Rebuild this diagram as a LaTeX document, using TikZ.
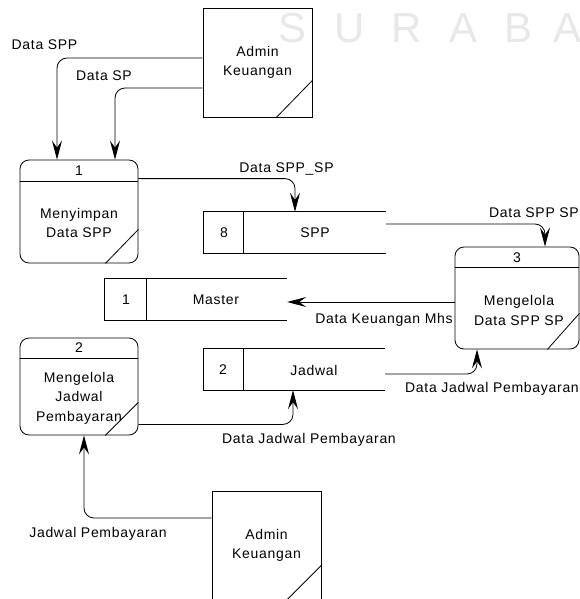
\documentclass[tikz,border=0pt]{standalone}
\usepackage{fontspec}
\setmainfont{Liberation Sans}[LetterSpace=5]
\newfontfamily\wmfont{Liberation Sans}
\usetikzlibrary{arrows.meta}
\begin{document}
\begin{tikzpicture}[x=1pt,y=-1pt,
  every node/.style={font=\fontsize{14}{19.5}\selectfont, inner sep=0pt},
  edge/.style={line width=0.8pt},
  proc/.style={draw, edge, rounded corners=9pt, minimum width=118pt},
  ent/.style={draw, edge, minimum width=109pt, minimum height=109pt, align=center},
  store/.style={minimum width=182pt, minimum height=41pt},
  body/.style={align=center},
  lbl/.style={text height=10pt, text depth=0pt},
  flow/.style={edge, rounded corners=10pt, -{Stealth[length=19pt,width=10pt,inset=7pt]}},
  wmark/.style={font=\wmfont\fontsize{42}{42}\selectfont, text=black!9}
]
\useasboundingbox (0,0) rectangle (580,599);

% faint lettering across the top
\foreach \ch/\xx [count=\i] in {S/293,U/350,R/407,A/463,B/518,A/567}
  \node[wmark] (wm\i) at (\xx,28) {\ch};

% external entities
\node[ent] (e1) at (257.5,62.5) {Admin\\Keuangan};
\draw[edge] ([xshift=-36pt]e1.south east) -- ([yshift=37pt]e1.south east);
\node[ent] (e2) at (266.5,545.5) {Admin\\Keuangan};
\draw[edge] ([xshift=-35pt]e2.south east) -- ([yshift=35pt]e2.south east);

% process 1
\node[proc, minimum height=103pt] (p1) at (79,211.5) {};
\draw[edge] ([yshift=-22pt]p1.north west) -- ([yshift=-22pt]p1.north east);
\draw[edge] ([xshift=-33pt]p1.south east) -- ([yshift=34pt]p1.south east);
\node (p1n) at (79,171) {1};
\node[body] (p1t) at (79,223) {Menyimpan\\Data SPP};

% process 2
\node[proc, minimum height=97pt] (p2) at (79,386.5) {};
\draw[edge] ([yshift=-21pt]p2.north west) -- ([yshift=-21pt]p2.north east);
\draw[edge] ([xshift=-33pt]p2.south east) -- ([yshift=33pt]p2.south east);
\node (p2n) at (79,348) {2};
\node[body] (p2t) at (79,398) {Mengelola\\Jadwal\\Pembayaran};

% process 3
\node[proc, minimum width=124pt, minimum height=102pt] (p3) at (517,298) {};
\draw[edge] ([yshift=-21pt]p3.north west) -- ([yshift=-21pt]p3.north east);
\draw[edge] ([xshift=-32pt]p3.south east) -- ([yshift=36pt]p3.south east);
\node (p3n) at (517,258) {3};
\node[body] (p3t) at (519,310.5) {Mengelola\\Data SPP SP};

% data stores
\node[store] (s8) at (295,232.5) {};
\draw[edge] (s8.north east) -- (s8.north west) -- (s8.south west) -- (s8.south east);
\draw[edge] ([xshift=40pt]s8.north west) -- ([xshift=40pt]s8.south west);
\node (s8n) at (224,232.5) {8};
\node (s8t) at (315,232.5) {SPP};

\node[store] (sm) at (196,299.5) {};
\draw[edge] (sm.north east) -- (sm.north west) -- (sm.south west) -- (sm.south east);
\draw[edge] ([xshift=42pt]sm.north west) -- ([xshift=42pt]sm.south west);
\node (smn) at (126,300) {1};
\node (smt) at (216,300) {Master};

\node[store, minimum width=181pt] (sj) at (294.5,369.5) {};
\draw[edge] (sj.north east) -- (sj.north west) -- (sj.south west) -- (sj.south east);
\draw[edge] ([xshift=40pt]sj.north west) -- ([xshift=40pt]sj.south west);
\node (sjn) at (223,370) {2};
\node (sjt) at (314,370) {Jadwal};

% data flows
\draw[flow] ([yshift=4.5pt]e1.west) -| ([xshift=-22pt]p1.north);
\draw[flow] ([yshift=-25.5pt]e1.west) -| ([xshift=36pt]p1.north);
\draw[flow] ([yshift=-19pt]p1.north east) -| (s8.north);
\draw[flow] ([yshift=8.5pt]s8.east) -| ([xshift=28pt]p3.north);
\draw[flow] ([yshift=-4pt]p3.west) -- ([yshift=-2.5pt]sm.east);
\draw[flow] ([yshift=-4.5pt]sj.east) -| ([xshift=-40pt]p3.south);
\draw[flow] ([yshift=11pt]p2.south east) -| ([xshift=-1.5pt]sj.south);
\draw[flow] ([yshift=27.5pt]e2.west) -| ([xshift=5pt]p2.south);

% flow labels
\node[lbl] (l1) at (44.5,45) {Data SPP};
\node[lbl] (l2) at (104,76) {Data SP};
\node[lbl] (l3) at (286.5,167) {Data SPP\_SP};
\node[lbl] (l4) at (534,212) {Data SPP SP};
\node[lbl] (l5) at (384,318) {Data Keuangan Mhs};
\node[lbl] (l6) at (492,387) {Data Jadwal Pembayaran};
\node[lbl] (l7) at (309,438) {Data Jadwal Pembayaran};
\node[lbl] (l8) at (98,532) {Jadwal Pembayaran};
\end{tikzpicture}
\end{document}
